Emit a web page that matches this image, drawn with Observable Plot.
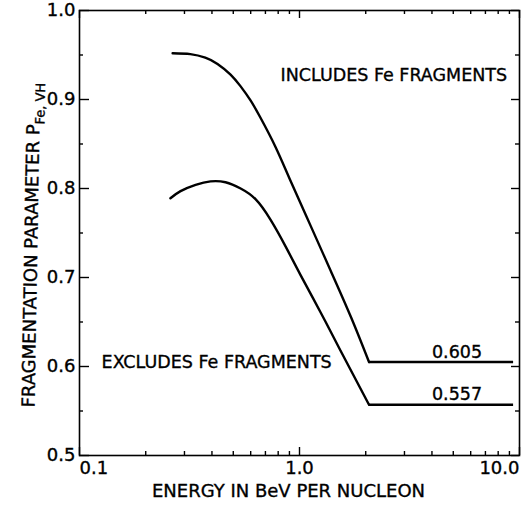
<!DOCTYPE html>
<html>
<head>
<meta charset="utf-8">
<script src="https://cdn.jsdelivr.net/npm/d3@7"></script>
<script src="https://cdn.jsdelivr.net/npm/@observablehq/plot@0.6"></script>
<style>
  html, body { margin: 0; padding: 0; background: #fff; }
  #chart svg { display: block; }
  #chart svg text { stroke: #000; stroke-width: 0.35px; }
</style>
</head>
<body>
<div id="chart"></div>
<script>
// Fragmentation parameter vs. energy (BeV per nucleon)
const plateauIncludes = 0.605;
const plateauExcludes = 0.557;
const breakEnergy = 2.07;   // curves become flat above this energy
const endEnergy = 9.4;

const energyIncludes = [0.265, 0.319, 0.373, 0.424, 0.486, 0.539, 0.599, 0.663, 0.777, 0.909, 1.124, 1.389, 1.717, breakEnergy];
const includes       = [0.952, 0.951, 0.947, 0.940, 0.928, 0.915, 0.899, 0.880, 0.847, 0.809, 0.758, 0.707, 0.655, plateauIncludes];

const energyExcludes = [0.259, 0.288, 0.337, 0.394, 0.461, 0.540, 0.631, 0.738, 0.864, 1.010, 1.246, 1.535, breakEnergy];
const excludes       = [0.789, 0.797, 0.804, 0.808, 0.807, 0.800, 0.788, 0.765, 0.735, 0.703, 0.661, 0.618, plateauExcludes];

const xMajorTicks = [0.1, 1, 10];
const xMinorTicks = [0.2, 0.3, 0.4, 0.5, 0.6, 0.7, 0.8, 0.9, 2, 3, 4, 5, 6, 7, 8, 9];
const yMajorTicks = [0.5, 0.6, 0.7, 0.8, 0.9, 1.0];
const yMinorTicks = [0.55, 0.65, 0.75, 0.85, 0.95];

const W = 524, H = 506;
const mL = 79, mR = 5, mT = 10, mB = 51;
const innerW = W - mL - mR, innerH = H - mT - mB;
const fmt1 = d3.format(".1f");
const fmt3 = d3.format(".3f");

const plot = Plot.plot({
  width: W,
  height: H,
  marginLeft: mL,
  marginRight: mR,
  marginTop: mT,
  marginBottom: mB,
  style: { fontFamily: "DejaVu Sans, sans-serif", fontSize: "18px", color: "#000", background: "#fff" },
  x: { type: "log", domain: [0.1, 10], axis: null },
  y: { domain: [0.5, 1.0], axis: null },
  marks: [
    Plot.frame({ stroke: "#000", strokeWidth: 1.6 }),

    // inward ticks on all four sides
    Plot.ruleX(xMajorTicks, { x: d => d, insetTop: innerH - 8, strokeWidth: 1.4 }),
    Plot.ruleX(xMinorTicks, { x: d => d, insetTop: innerH - 4, strokeWidth: 1.4 }),
    Plot.ruleX(xMajorTicks, { x: d => d, insetBottom: innerH - 8, strokeWidth: 1.4 }),
    Plot.ruleX(xMinorTicks, { x: d => d, insetBottom: innerH - 4, strokeWidth: 1.4 }),
    Plot.ruleY(yMajorTicks, { y: d => d, insetRight: innerW - 10, strokeWidth: 1.4 }),
    Plot.ruleY(yMinorTicks, { y: d => d, insetRight: innerW - 4, strokeWidth: 1.4 }),
    Plot.ruleY(yMajorTicks, { y: d => d, insetLeft: innerW - 8, strokeWidth: 1.4 }),
    Plot.ruleY(yMinorTicks, { y: d => d, insetLeft: innerW - 4, strokeWidth: 1.4 }),

    // tick labels
    Plot.axisY({ ticks: yMajorTicks, tickSize: 0, tickPadding: 4, tickFormat: fmt1, label: null }),
    Plot.text([xMajorTicks[0]], { x: d => d, text: fmt1, frameAnchor: "bottom", textAnchor: "start", lineAnchor: "top", dy: 6 }),
    Plot.text([xMajorTicks[1]], { x: d => d, text: fmt1, frameAnchor: "bottom", textAnchor: "middle", lineAnchor: "top", dy: 6 }),
    Plot.text([xMajorTicks[2]], { x: d => d, text: fmt1, frameAnchor: "bottom", textAnchor: "end", lineAnchor: "top", dy: 6 }),

    // curves
    Plot.line(includes, { x: energyIncludes, y: includes, curve: "natural", strokeWidth: 2.4, stroke: "#000" }),
    Plot.line(excludes, { x: energyExcludes, y: excludes, curve: "natural", strokeWidth: 2.4, stroke: "#000" }),
    Plot.ruleY([plateauIncludes], { y: d => d, x1: breakEnergy, x2: endEnergy, strokeWidth: 2.4 }),
    Plot.ruleY([plateauExcludes], { y: d => d, x1: breakEnergy, x2: endEnergy, strokeWidth: 2.4 }),

    // annotations
    Plot.text([plateauIncludes], { x: 5.2, y: d => d, text: fmt3, dy: -10, fontSize: 17.5 }),
    Plot.text([plateauExcludes], { x: 5.2, y: d => d, text: fmt3, dy: -10, fontSize: 17.5 }),
    Plot.text(["INCLUDES Fe FRAGMENTS"], { x: 0.82, y: 0.927, text: d => d, textAnchor: "start", fontSize: 17.5 }),
    Plot.text(["EXCLUDES Fe FRAGMENTS"], { x: 0.126, y: 0.605, text: d => d, textAnchor: "start", fontSize: 17.5 }),

    // axis titles
    Plot.text(["ENERGY IN BeV PER NUCLEON"], { text: d => d, frameAnchor: "bottom", dx: -11, dy: 41, fontSize: 18 }),
    Plot.text(["FRAGMENTATION PARAMETER P"], { text: d => d, frameAnchor: "bottom-left", textAnchor: "start", lineAnchor: "bottom", rotate: -89, dx: -45, dy: -48, fontSize: 18 })
  ]
});

// subscript on the y-axis title
d3.select(plot).selectAll("text")
  .filter(function () { return this.textContent === "FRAGMENTATION PARAMETER P"; })
  .append("tspan")
  .attr("font-size", 13)
  .attr("dy", 5)
  .text("Fe, VH");

document.getElementById("chart").appendChild(plot);
</script>
</body>
</html>
